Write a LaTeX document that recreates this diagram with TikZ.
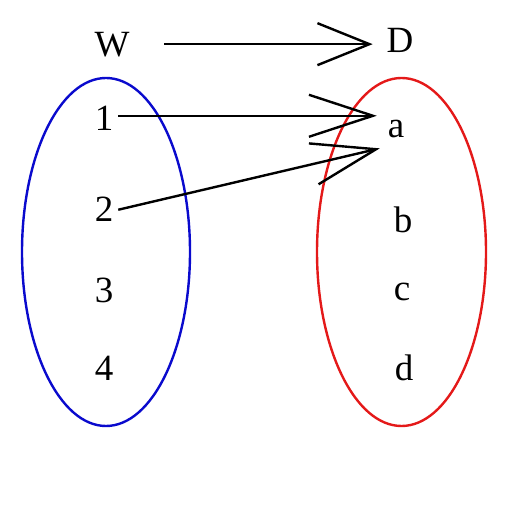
\documentclass[tikz,border=0pt]{standalone}
\usepackage{fontspec}
\setmainfont{Liberation Serif}
\usetikzlibrary{arrows.meta}
\definecolor{setblue}{RGB}{10,10,205}
\definecolor{setred}{RGB}{228,25,25}
\tikzset{
  lbl/.style={anchor=base,inner sep=0pt,outer sep=0pt,font=\fontsize{18.5}{20}\selectfont},
  mapsto/.style={line width=1.2pt,-{Straight Barb[length=32pt,width=21pt]}},
  bigarr/.style={line width=1.2pt,-{Straight Barb[length=26pt,width=21pt]}},
  setring/.style={line width=1.2pt}
}
\begin{document}
\begin{tikzpicture}[x=0.5pt,y=-0.5pt]
\useasboundingbox (0,0) rectangle (512,512);
% sets
\draw[setring,setblue] (106,252) ellipse [x radius=42pt,y radius=87pt];
\draw[setring,setred] (401.5,252) ellipse [x radius=42.25pt,y radius=87pt];
% labels
\node[lbl] (nW) at (112,57) {W};
\node[lbl] (nD) at (400,53) {D};
\node[lbl] (n1) at (104,131) {1};
\node[lbl] (n2) at (104,222) {2};
\node[lbl] (n3) at (104,302) {3};
\node[lbl] (n4) at (104,380) {4};
\node[lbl] (na) at (396,138) {a};
\node[lbl] (nb) at (403,233) {b};
\node[lbl] (nc) at (402,300) {c};
\node[lbl] (nd) at (404,380) {d};
% connectors
\draw[bigarr] ([xshift=17.5pt,yshift=0.5pt]nW.east) -- ([xshift=-7pt,yshift=0.5pt]nW.east -| nD.west);
\draw[mapsto] ([xshift=2.5pt,yshift=1.5pt]n1.east) -- ([xshift=-5.5pt,yshift=1.5pt]n1.east -| na.west);
\draw[mapsto] ([xshift=2.5pt]n2.east) -- ([xshift=-4pt,yshift=-5pt]na.south west);
\end{tikzpicture}
\end{document}
